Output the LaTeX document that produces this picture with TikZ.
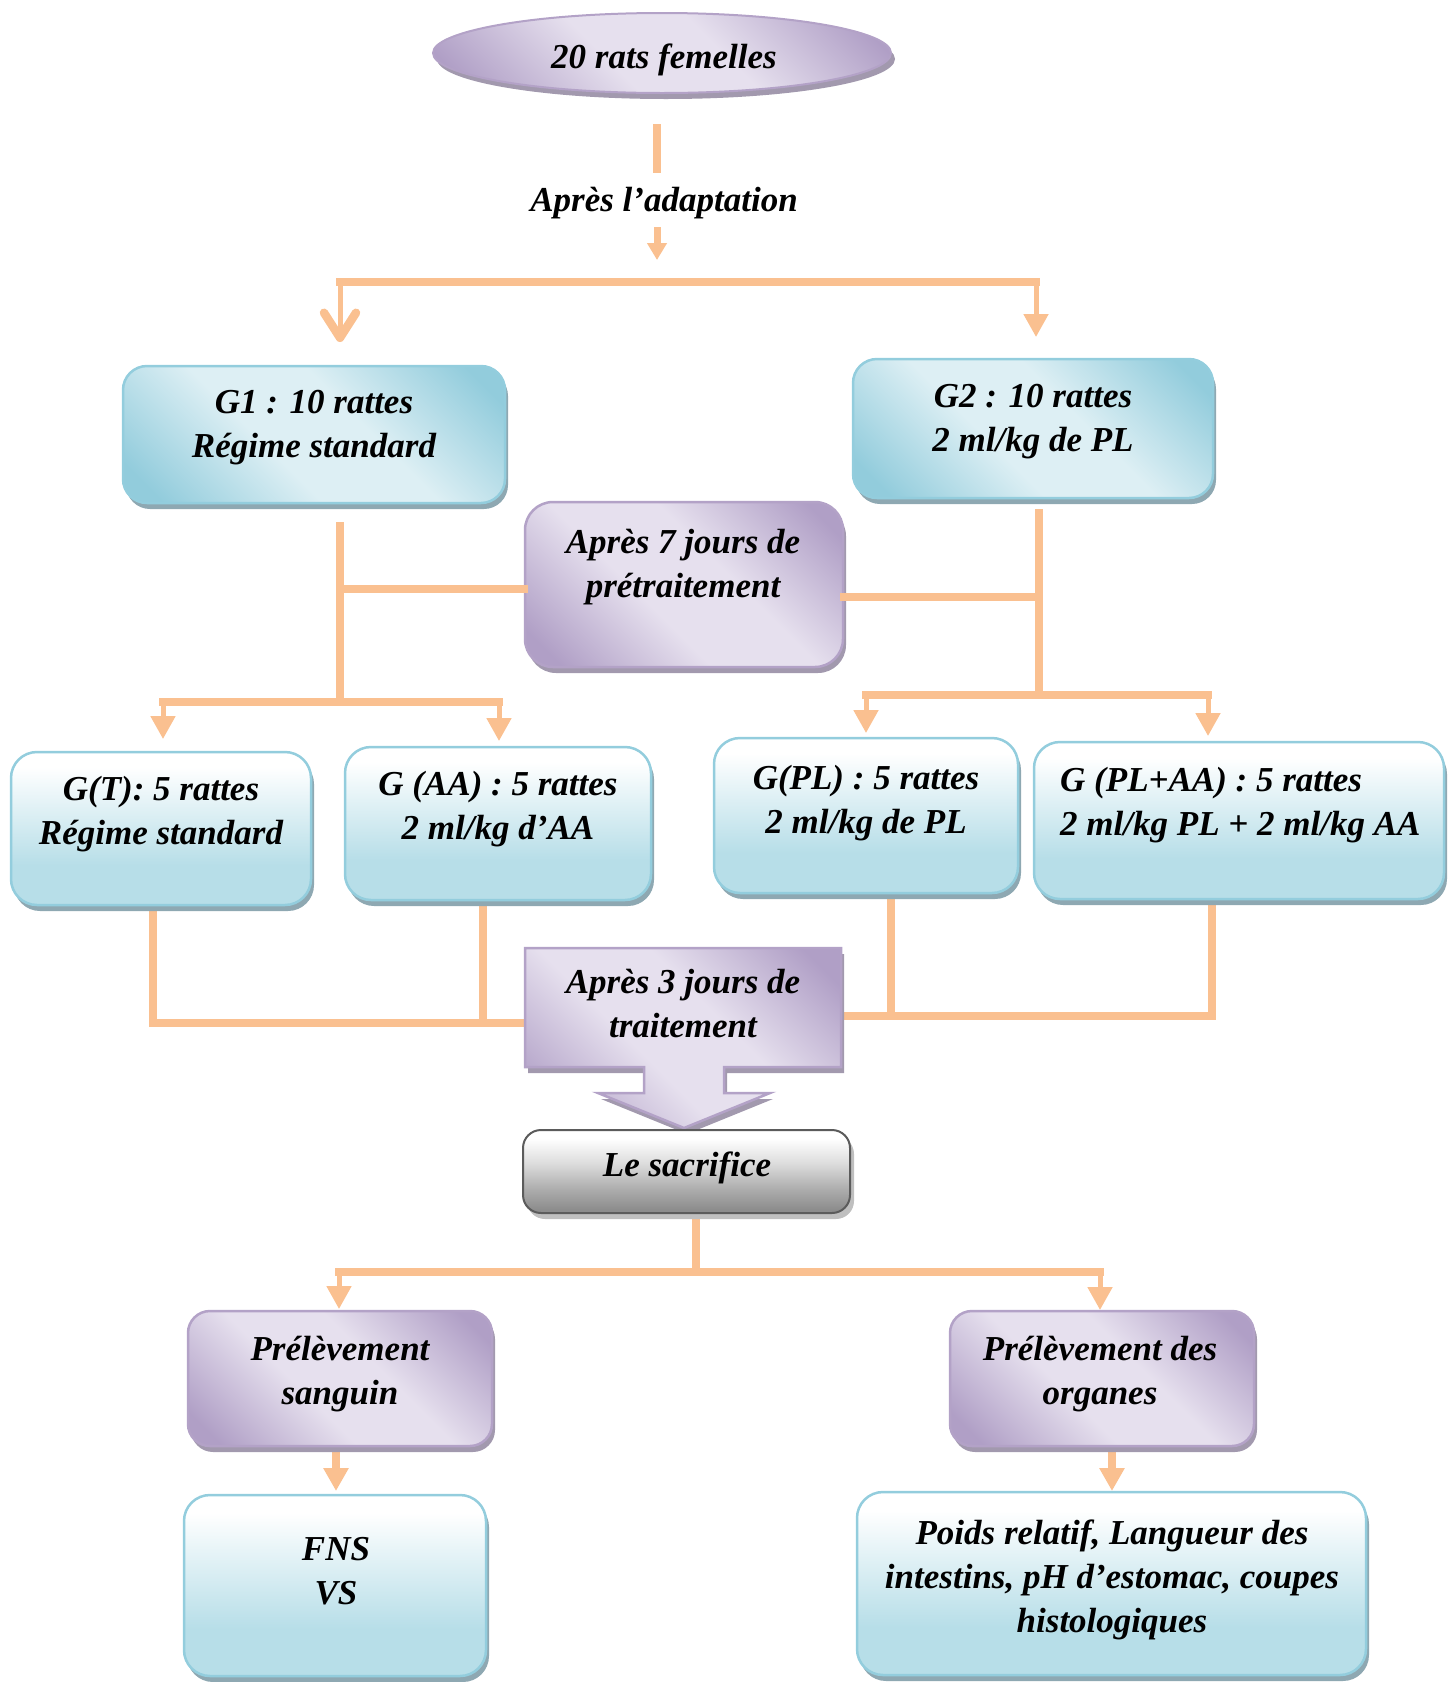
\documentclass[tikz,border=0pt]{standalone}
\usepackage{fontspec}
\setmainfont{Liberation Serif}
\usetikzlibrary{shapes.geometric,arrows.meta,shadows}
\definecolor{orng}{HTML}{FAC090}
\definecolor{bdark}{HTML}{92CCDC}
\definecolor{blight}{HTML}{DDEFF4}
\definecolor{bline}{HTML}{93CDDD}
\definecolor{bshad}{HTML}{8EA8B2}
\definecolor{pdark}{HTML}{B09FC6}
\definecolor{plight}{HTML}{E6E0EE}
\definecolor{pline}{HTML}{B3A2C7}
\definecolor{pshad}{HTML}{A299AE}
\definecolor{lblue}{HTML}{B7DEE8}
\definecolor{gdark}{HTML}{8C8C8C}
\definecolor{gline}{HTML}{5B5B5B}
\definecolor{gshad}{HTML}{BFBFBF}
\pgfdeclarehorizontalshading{bluediag}{100bp}{color(0bp)=(bdark); color(20bp)=(bdark); color(42bp)=(blight); color(58bp)=(blight); color(80bp)=(bdark); color(100bp)=(bdark)}
\pgfdeclarehorizontalshading{purpdiag}{100bp}{color(0bp)=(pdark); color(20bp)=(pdark); color(42bp)=(plight); color(58bp)=(plight); color(80bp)=(pdark); color(100bp)=(pdark)}
\pgfdeclareverticalshading{lbvert}{100bp}{color(0bp)=(lblue); color(38bp)=(lblue); color(56bp)=(lblue!45!white); color(70bp)=(white); color(100bp)=(white)}
\pgfdeclareverticalshading{grayvert}{100bp}{color(0bp)=(gdark); color(27bp)=(gdark); color(40bp)=(gdark!70!white); color(55bp)=(gdark!30!white); color(70bp)=(white); color(100bp)=(white)}
\begin{document}
\begin{tikzpicture}[x=1pt,y=-1pt,
  txt/.style={font=\fontsize{35}{44}\selectfont\bfseries\itshape, align=center, inner sep=0pt},
  ln/.style={draw=orng, line width=8pt, line cap=rect},
  lnthin/.style={draw=orng, line width=5pt},
  tri/.style={-{Triangle[length=23pt,width=24pt]}},
  bluebox/.style={rectangle, rounded corners=24pt, draw=bline, line width=2.5pt, shade, shading=bluediag, shading angle=45,
     drop shadow={shadow xshift=3pt, shadow yshift=-6pt, fill=bshad, opacity=1}},
  lowbox/.style={rectangle, rounded corners=26pt, draw=bline, line width=2.5pt, shade, shading=lbvert,
     drop shadow={shadow xshift=3pt, shadow yshift=-6pt, fill=bshad, opacity=1}},
  purpbox/.style={rectangle, rounded corners=24pt, draw=pline, line width=2.5pt, shade, shading=purpdiag, shading angle=45,
     drop shadow={shadow xshift=3pt, shadow yshift=-6pt, fill=pshad, opacity=1}},
  graybox/.style={rectangle, rounded corners=18pt, draw=gline, line width=2pt, shade, shading=grayvert,
     drop shadow={shadow xshift=4pt, shadow yshift=-6pt, fill=gshad, opacity=1}},
]
\useasboundingbox (0,0) rectangle (1450,1682);

% ---------- connector coordinates ----------
\coordinate (a1) at (657,128); \coordinate (a2) at (657,169);
\coordinate (a3) at (657,227); \coordinate (a4) at (657,260);
\coordinate (s1) at (340,282); \coordinate (s2) at (1036,282);
\coordinate (g1tip) at (340,342); \coordinate (g2tip) at (1036,337);
\coordinate (l1) at (340,526); \coordinate (l2) at (340,702); \coordinate (lb) at (340,589);
\coordinate (b1) at (163,702); \coordinate (b2) at (499,702);
\coordinate (gttip) at (163,739); \coordinate (gaatip) at (499,741);
\coordinate (r1) at (1039,513); \coordinate (r2) at (1039,695); \coordinate (rb) at (1039,597);
\coordinate (rb1) at (866,695); \coordinate (rb2) at (1208,695);
\coordinate (gpltip) at (866,733); \coordinate (gplaatip) at (1208,736);
\coordinate (d1) at (153,912); \coordinate (d2) at (153,1023);
\coordinate (d3) at (483,903); \coordinate (d4) at (483,1023);
\coordinate (d5) at (891,896); \coordinate (d6) at (891,1016);
\coordinate (d7) at (1212,898); \coordinate (d8) at (1212,1016);
\coordinate (c3w) at (525,1023); \coordinate (c3e) at (841,1016);
\coordinate (q1) at (696,1213); \coordinate (q2) at (696,1272);
\coordinate (q3) at (339,1272); \coordinate (q4) at (1100,1272);
\coordinate (pstip) at (339,1309); \coordinate (potip) at (1100,1310);
\coordinate (f1) at (336,1452); \coordinate (fnstip) at (336,1491);
\coordinate (p1) at (1112,1448); \coordinate (poidstip) at (1112,1491);

% ---------- connectors ----------
\draw[ln] (a1) -- (a2);
\draw[draw=orng, line width=7pt, -{Triangle[length=17pt,width=19pt]}] (a3) -- (a4);
\draw[ln] (s1) -- (s2);
\draw[lnthin, -{Straight Barb[length=25pt,width=32pt,line width=8.5pt,round]}] (s1) -- (g1tip);
\draw[lnthin, tri] (s2) -- (g2tip);
\draw[ln] (l1) -- (l2);
\draw[ln] (b1) -- (b2);
\draw[lnthin, tri] (b1) -- (gttip);
\draw[lnthin, tri] (b2) -- (gaatip);
\draw[ln] (r1) -- (r2);
\draw[ln] (rb1) -- (rb2);
\draw[lnthin, tri] (rb1) -- (gpltip);
\draw[lnthin, tri] (rb2) -- (gplaatip);
\draw[ln] (d1) -- (d2) -- (c3w);
\draw[ln] (d3) -- (d4);
\draw[ln] (d5) -- (d6);
\draw[ln] (d7) -- (d8) -- (c3e);
\draw[ln] (q1) -- (q2);
\draw[ln] (q3) -- (q4);
\draw[lnthin, tri] (q3) -- (pstip);
\draw[lnthin, tri] (q4) -- (potip);
\draw[draw=orng, line width=8pt, -{Triangle[length=23pt,width=24pt]}] (f1) -- (fnstip);
\draw[draw=orng, line width=8pt, -{Triangle[length=23pt,width=24pt]}] (p1) -- (poidstip);

% ---------- boxes ----------
\node[ellipse, draw=pline, line width=2pt, shade, shading=purpdiag, shading angle=45,
  drop shadow={shadow xshift=4pt, shadow yshift=-6pt, fill=pshad, opacity=1},
  minimum width=458pt, minimum height=80pt] (e20) at (662,53) {};
\node[bluebox, minimum width=382pt, minimum height=137pt] (g1) at (314,434.5) {};
\node[bluebox, minimum width=360pt, minimum height=139pt] (g2) at (1033,428.5) {};
\node[purpbox, rounded corners=28pt, minimum width=318pt, minimum height=165pt] (pre7) at (684,584.5) {};
\draw[ln] (lb) -- (pre7.west |- lb);
\draw[ln] (pre7.east |- rb) -- (rb);
\node[lowbox, minimum width=300pt, minimum height=153pt] (gt) at (161,828.5) {};
\node[lowbox, minimum width=306pt, minimum height=153pt] (gaa) at (498,823.5) {};
\node[lowbox, minimum width=304pt, minimum height=155pt] (gpl) at (866,815.5) {};
\node[lowbox, minimum width=410pt, minimum height=157pt] (gplaa) at (1239,820.5) {};
% callout with down arrow
\path[draw=pline, line width=2.5pt, shade, shading=purpdiag, shading angle=45,
  drop shadow={shadow xshift=3pt, shadow yshift=-6pt, fill=pshad, opacity=1}]
  (525,948) -- (841,948) -- (841,1067) -- (724,1067) -- (724,1093) -- (770,1093) -- (684,1128)
  -- (598,1093) -- (644,1093) -- (644,1067) -- (525,1067) -- cycle;
\node[graybox, minimum width=327pt, minimum height=83pt] (sacr) at (686.5,1171.5) {};
\node[purpbox, rounded corners=22pt, minimum width=304pt, minimum height=135pt] (ps) at (340,1378.5) {};
\node[purpbox, rounded corners=22pt, minimum width=304pt, minimum height=135pt] (po) at (1102,1378.5) {};
\node[lowbox, minimum width=302pt, minimum height=181pt] (fns) at (335,1585.5) {};
\node[lowbox, minimum width=509pt, minimum height=183pt] (poids) at (1111.5,1583.5) {};

% ---------- texts ----------
\node[txt] (t20) at (664,60) {20 rats femelles};
\node[txt] (tad) at (664,203) {Après l’adaptation};
\node[txt] (tg1) at (314,428) {G1 : 10 rattes\\Régime standard};
\node[txt] (tg2) at (1033,422) {G2 : 10 rattes\\2 ml/kg de PL};
\node[txt] (tpre) at (683,567) {Après 7 jours de\\prétraitement};
\node[txt] (tgt) at (161,814) {G(T): 5 rattes\\Régime standard};
\node[txt] (tgaa) at (498,809) {G (AA) : 5 rattes\\2 ml/kg d’AA};
\node[txt] (tgpl) at (866,803) {G(PL) : 5 rattes\\2 ml/kg de PL};
\node[txt, align=left, anchor=west] (tgplaa) at (1060,805) {G (PL+AA) : 5 rattes\\2 ml/kg PL + 2 ml/kg AA};
\node[txt] (tpost) at (683,1004) {Après 3 jours de\\traitement};
\node[txt] (tsacr) at (687,1168) {Le sacrifice};
\node[txt] (tps) at (340,1374) {Prélèvement\\sanguin};
\node[txt] (tpo) at (1100,1374) {Prélèvement des\\organes};
\node[txt] (tfns) at (336,1571) {FNS\\VS};
\node[txt] (tpoids) at (1112,1580) {Poids relatif, Langueur des\\intestins, pH d’estomac, coupes\\histologiques};
\end{tikzpicture}
\end{document}
